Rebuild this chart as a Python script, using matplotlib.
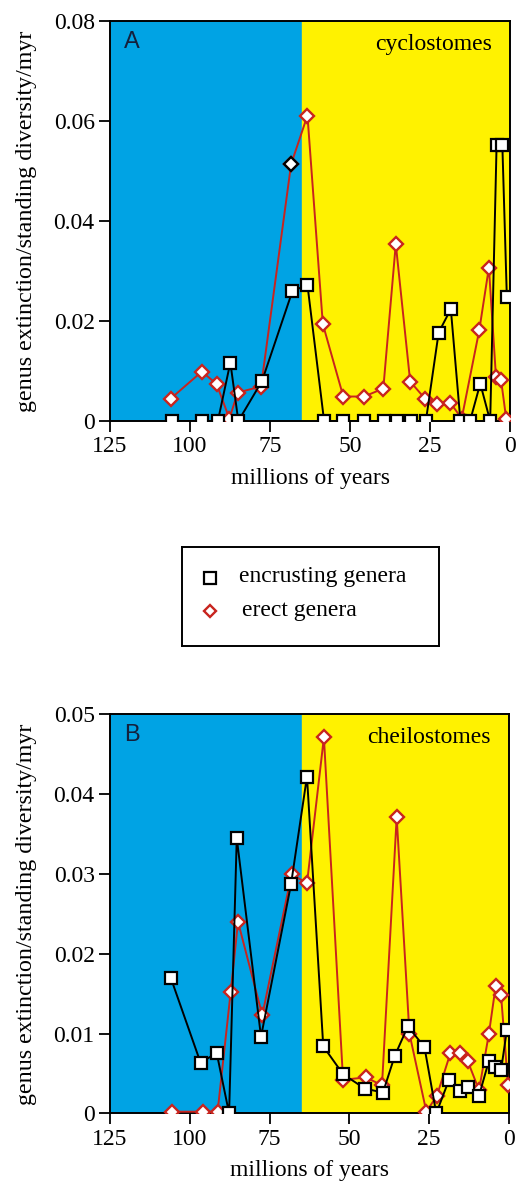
import numpy as np
import matplotlib.pyplot as plt

# Panel A: cyclostomes
enc_a_age = [105.5, 96.3, 91.3, 87.4, 84.9, 77.5, 68.0, 63.3, 58.1, 52.1, 45.6, 39.3,
             35.4, 30.9, 26.3, 22.3, 18.5, 15.5, 12.5, 9.3, 6.2, 4.2, 2.4, 1.0]
enc_a_val = [0, 0, 0, 0.0117, 0, 0.0080, 0.0260, 0.0272, 0, 0, 0, 0,
             0, 0, 0, 0.0177, 0.0224, 0, 0, 0.0075, 0, 0.0552, 0.0552, 0.0249]
ere_a_age = [106.0, 96.3, 91.7, 87.7, 85.1, 77.8, 68.4, 63.3, 58.5, 52.1, 45.6, 39.6,
             35.7, 31.2, 26.6, 22.7, 18.7, 15.1, 9.6, 6.6, 4.4, 2.8, 1.2]
ere_a_val = [0.0045, 0.0099, 0.0074, 0.0005, 0.0057, 0.0069, 0.0514, 0.0611, 0.0194,
             0.0049, 0.0049, 0.0065, 0.0354, 0.0079, 0.0045, 0.0034, 0.0037, 0.0005,
             0.0182, 0.0307, 0.0089, 0.0082, 0.0005]
ere_a_dark = 6  # this erect point is outlined in black

# Panel B: cheilostomes
enc_b_age = [105.9, 96.6, 91.6, 87.7, 85.3, 77.7, 68.3, 63.3, 58.2, 52.0, 45.2, 39.5,
             35.8, 31.7, 26.5, 22.8, 18.8, 15.5, 13.0, 9.4, 6.3, 4.4, 2.5, 0.7]
enc_b_val = [0.0169, 0.0063, 0.0076, 0.0, 0.0345, 0.0096, 0.0287, 0.0422, 0.0084,
             0.0049, 0.0031, 0.0026, 0.0072, 0.0109, 0.0083, 0.0, 0.0042, 0.0028,
             0.0033, 0.0022, 0.0066, 0.0058, 0.0054, 0.0104]
ere_b_age = [105.7, 96.0, 91.3, 87.2, 84.9, 77.3, 68.1, 63.3, 58.0, 52.0, 44.8, 39.8,
             35.2, 31.2, 25.9, 22.6, 18.4, 15.3, 12.9, 9.4, 6.3, 4.2, 2.5, 0.3]
ere_b_val = [0.0002, 0.0002, 0.0002, 0.0152, 0.0240, 0.0123, 0.0300, 0.0288, 0.0471,
             0.0042, 0.0045, 0.0035, 0.0371, 0.0100, 0.0002, 0.0022, 0.0075, 0.0075,
             0.0065, 0.0029, 0.0100, 0.0159, 0.0148, 0.0035]

kt_boundary = 65
x_ticks = [125, 100, 75, 50, 25, 0]
y_ticks_a = [0, 0.02, 0.04, 0.06, 0.08]
y_ticks_b = [0, 0.01, 0.02, 0.03, 0.04, 0.05]

BLUE = '#00a3e4'
YELLOW = '#fff200'
RED = '#c8241e'
FS = 17

plt.rcParams['font.family'] = 'Liberation Serif'

fig = plt.figure(figsize=(5.18, 11.86), dpi=100)
ax_a = fig.add_axes([0.2124, 0.645, 0.7722, 0.3373])
ax_b = fig.add_axes([0.2124, 0.0613, 0.7703, 0.3364])


def draw_panel(ax, enc_age, enc_val, ere_age, ere_val, yticks, ymax, letter, group):
    ax.axvspan(125, kt_boundary, color=BLUE, zorder=0)
    ax.axvspan(kt_boundary, 0, color=YELLOW, zorder=0)
    ax.plot(ere_age, ere_val, color=RED, lw=1.4, marker='D', ms=6.8,
            mfc='white', mec=RED, mew=1.7, zorder=3)
    ax.plot(enc_age, enc_val, color='black', lw=1.4, marker='s', ms=9.2,
            mfc='white', mec='black', mew=1.6, zorder=4)
    ax.set_xlim(125, 0)
    ax.set_ylim(0, ymax)
    ax.set_xticks(x_ticks)
    ax.set_xticklabels([str(t) for t in x_ticks])
    ax.set_yticks(yticks)
    ax.set_yticklabels(['0'] + [f'{t:.2f}' for t in yticks[1:]])
    ax.tick_params(direction='out', length=8, width=1.3, labelsize=FS, pad=3)
    for s in ax.spines.values():
        s.set_linewidth(1.4)
    ax.set_xlabel('millions of years', fontsize=FS)
    ax.xaxis.set_label_coords(0.5, -0.118)
    ax.xaxis.label.set_va('top')
    ax.set_ylabel('genus extinction/standing diversity/myr', fontsize=17.3)
    ax.yaxis.set_label_coords(-0.183, 0.5)
    ax.text(0.035, 0.975, letter, transform=ax.transAxes, fontsize=17,
            family='Liberation Sans', va='top', ha='left', color='#14203c')
    ax.text(0.955, 0.968, group, transform=ax.transAxes, fontsize=FS,
            va='top', ha='right')


draw_panel(ax_a, enc_a_age, enc_a_val, ere_a_age, ere_a_val, y_ticks_a, 0.08, 'A', 'cyclostomes')
ax_a.plot(ere_a_age[ere_a_dark], ere_a_val[ere_a_dark], marker='D', ms=6.8,
          mfc='white', mec='black', mew=1.7, zorder=5)
draw_panel(ax_b, enc_b_age, enc_b_val, ere_b_age, ere_b_val, y_ticks_b, 0.05, 'B', 'cheilostomes')

# legend box between the panels
leg_ax = fig.add_axes([182 / 518, 1 - 646 / 1186, 257 / 518, 99 / 1186])
leg_ax.set_xlim(0, 1)
leg_ax.set_ylim(0, 1)
leg_ax.set_xticks([])
leg_ax.set_yticks([])
for s in leg_ax.spines.values():
    s.set_linewidth(1.4)
leg_ax.plot([0.11], [0.69], marker='s', ms=8.5, mfc='white', mec='black', mew=1.6)
leg_ax.plot([0.11], [0.35], marker='D', ms=6.5, mfc='white', mec=RED, mew=1.7)
leg_ax.text(0.22, 0.70, 'encrusting genera', fontsize=FS, va='center', ha='left')
leg_ax.text(0.235, 0.36, 'erect genera', fontsize=FS, va='center', ha='left')

fig.savefig('out.png', dpi=100)
